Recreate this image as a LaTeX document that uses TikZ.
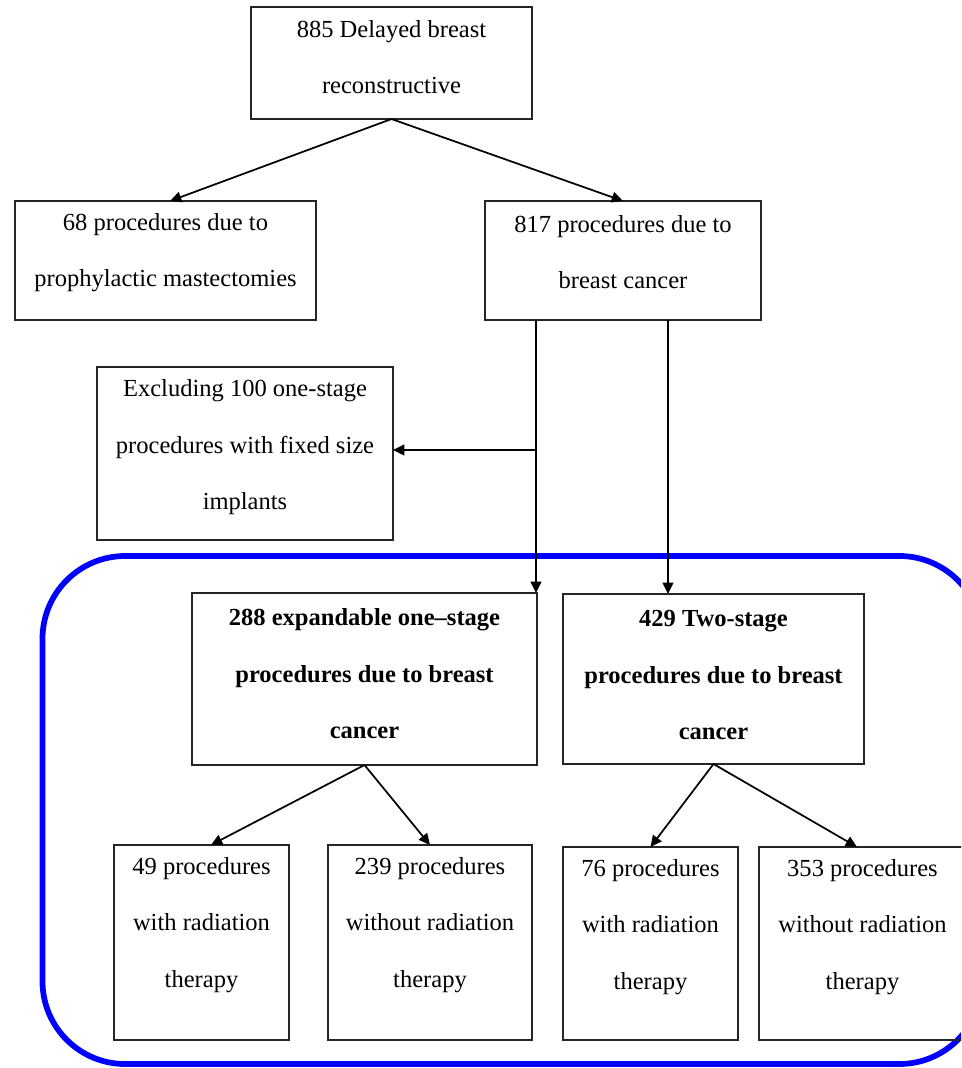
\documentclass[tikz,border=0pt]{standalone}
\usepackage{fontspec}
\setmainfont{Liberation Serif}
\usetikzlibrary{arrows.meta}
\begin{document}
\begin{tikzpicture}[x=0.75pt,y=-0.75pt,
  box/.style={draw=black!85, line width=1.4pt, inner sep=0pt, outer sep=0pt, rectangle},
  sz/.style 2 args={minimum width=#1*0.75pt, minimum height=#2*0.75pt},
  txt/.style={align=center, inner sep=0pt, font=\fontsize{18.4}{42.4}\selectfont},
  btxt/.style={align=center, inner sep=0pt, font=\fontsize{18.4}{42.4}\selectfont\bfseries},
  arr/.style={line width=1.3pt, -{Triangle[length=8.5pt,width=8pt]}},
  frame/.style={draw=blue, line width=4.3pt, rounded corners=62pt}]
\useasboundingbox (0,0) rectangle (961,1068);
\clip (0,0) rectangle (961,1068);

% blue frame
\draw[frame] (42.5,556) rectangle (982,1064);

% boxes
\node[box, sz={281}{112}] (top) at (391.5,63) {};
\node[txt] (ttop) at (391.5,57) {885 Delayed breast\\reconstructive};

\node[box, sz={301}{119}] (b68) at (165.5,260.5) {};
\node[txt] (t68) at (165.5,252.5) {68 procedures due to\\prophylactic mastectomies};

\node[box, sz={276}{119}] (b817) at (623,260.5) {};
\node[txt] (t817) at (623,252) {817 procedures due to\\breast cancer};

\node[box, sz={296}{173}] (excl) at (245,453.5) {};
\node[txt] (texcl) at (245,447.5) {Excluding 100 one-stage\\procedures with fixed size\\implants};

\node[box, sz={345}{172}] (b288) at (364.5,679) {};
\node[btxt] (t288) at (364.5,674) {288 expandable one–stage\\procedures due to breast\\cancer};

\node[box, sz={301}{170}] (b429) at (713.5,679) {};
\node[btxt] (t429) at (713.5,675) {429 Two-stage\\procedures due to breast\\cancer};

\node[box, sz={175}{195}] (b49) at (201.5,942.5) {};
\node[txt] (t49) at (201.5,925) {49 procedures\\with radiation\\therapy};

\node[box, sz={204}{195}] (b239) at (430,942.5) {};
\node[txt] (t239) at (430,925) {239 procedures\\without radiation\\therapy};

\node[box, sz={175}{193}] (b76) at (650.5,943.5) {};
\node[txt] (t76) at (650.5,927) {76 procedures\\with radiation\\therapy};

\node[box, sz={207}{193}] (b353) at (862.5,943.5) {};
\node[txt] (t353) at (862.5,927) {353 procedures\\without radiation\\therapy};

% connectors
\draw[arr] (top.south) -- ([xshift=3.4pt]b68.north);
\draw[arr] (top.south) -- (b817.north);

\coordinate (j1) at (536,450);
\coordinate (j2) at (668,450);
\draw[arr] (b817.south -| j1) -- (b288.north -| j1);
\draw[arr] (j1) -- (j1 -| excl.east);
\draw[arr] (b817.south -| j2) -- (b429.north -| j2);

\draw[arr] (b288.south) -- ([xshift=7.1pt]b49.north);
\draw[arr] (b288.south) -- (b239.north);
\draw[arr] (b429.south) -- (b76.north);
\draw[arr] (b429.south) -- ([xshift=-4.1pt]b353.north);
\end{tikzpicture}
\end{document}
